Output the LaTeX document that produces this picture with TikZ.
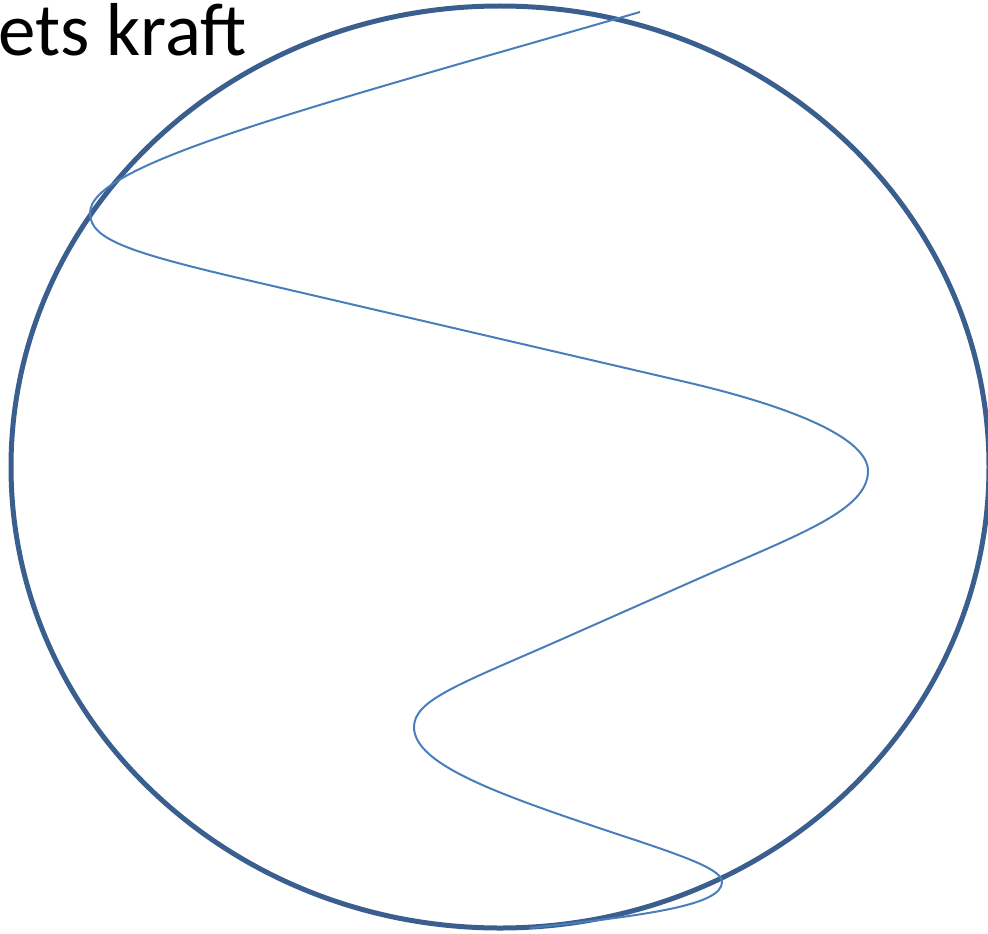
\documentclass[tikz,border=0pt]{standalone}
\usepackage{fontspec}
\setmainfont{Carlito}
\definecolor{rimblue}{HTML}{3A5F8E}
\definecolor{waveblue}{HTML}{4A7EBB}
\begin{document}
\begin{tikzpicture}[
    x=1pt, y=-1pt,
    rim/.style={draw=rimblue, line width=5pt},
    wave/.style={draw=waveblue, line width=2pt},
    caption/.style={inner sep=0pt, anchor=base west, font=\fontsize{75}{82}\selectfont}
]
    \useasboundingbox (0,0) rectangle (988,934);

    % Title (cut at the left edge)
    \node (title) [caption] at (-2,56) {ets kraft};

    % Ring
    \draw [rim] (500,467) ellipse [x radius=489, y radius=461];

    % Wave
    \draw [wave] (640,12)
        .. controls (290,113) and (90,165) .. (90,213)
        .. controls (90,240) and (130,253) .. (260,283)
        -- (690,383)
        .. controls (800,409) and (868,440) .. (868,471)
        .. controls (868,510) and (800,534) .. (700,578)
        -- (560,640)
        .. controls (460,684) and (414,700) .. (414,727)
        .. controls (414,765) and (500,795) .. (620,835)
        .. controls (690,858) and (722,870) .. (722,882)
        .. controls (722,905) and (650,915) .. (530,928);
\end{tikzpicture}
\end{document}
